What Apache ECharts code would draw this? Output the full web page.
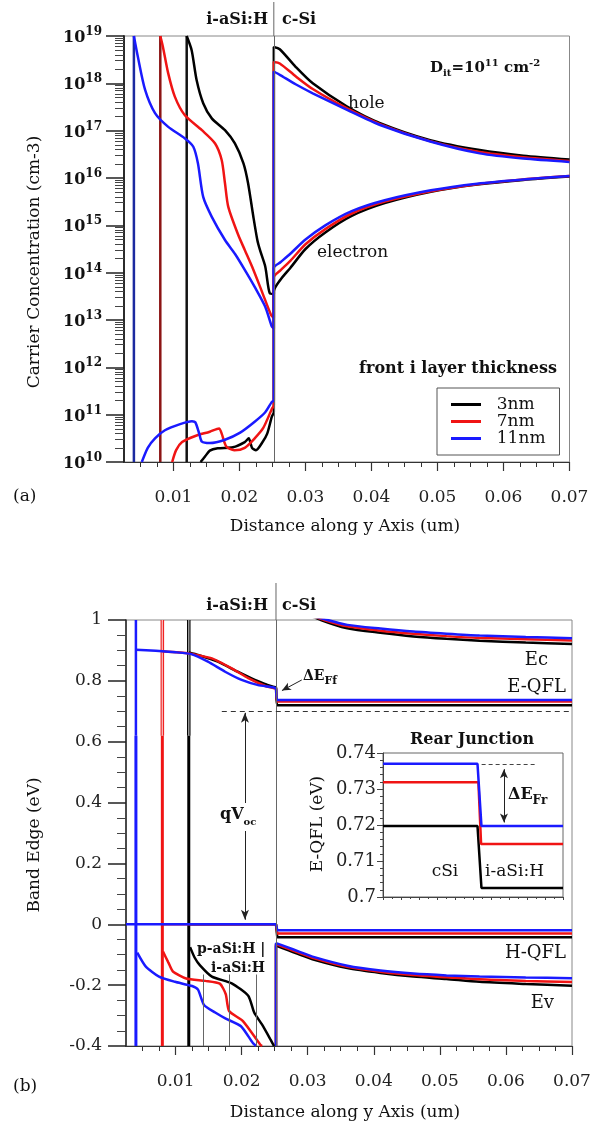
<!DOCTYPE html>
<html lang="en">
<head>
<meta charset="utf-8">
<title>Carrier concentration and band edge</title>
<script src="https://cdn.jsdelivr.net/npm/echarts@6.0.0/dist/echarts.min.js"></script>
<style>
    html, body { margin: 0; padding: 0; background: #fff; }
    #main { width: 602px; height: 1126px; }
</style>
</head>
<body>
<div id="main"></div>
<script type="text/javascript">
    // ---- axis ticks ----
    var xTicks = [0.01, 0.02, 0.03, 0.04, 0.05, 0.06, 0.07];
    var xMinorTicks = [0.005, 0.0075, 0.0125, 0.015, 0.0175, 0.0225, 0.025, 0.0275, 0.0325, 0.035, 0.0375,
        0.0425, 0.045, 0.0475, 0.0525, 0.055, 0.0575, 0.0625, 0.065, 0.0675];
    var logTicks = [1e10, 1e11, 1e12, 1e13, 1e14, 1e15, 1e16, 1e17, 1e18, 1e19];

    // ---- structure ----
    var thicknessNames = ['3nm', '7nm', '11nm'];
    var contactX = [0.012, 0.008, 0.004];
    var interfaceX = 0.0252;
    var piBoundaryX = [0.0222, 0.0182, 0.0142];

    // ---- (a) carrier concentration, [x (um), log10(cm-3)] ----
    var holeLog3 = [
        [0.0120, 19.0], [0.01275, 18.7], [0.0135, 18.07], [0.0145, 17.58], [0.0158, 17.26],
        [0.0178, 17.01], [0.0193, 16.73], [0.0206, 16.31], [0.0213, 15.89], [0.0221, 15.18],
        [0.0227, 14.69], [0.0231, 14.48], [0.0239, 14.13], [0.0246, 13.56], [0.0252, 13.55],
        [0.0252, 18.77], [0.0261, 18.72], [0.0285, 18.35], [0.0311, 18.0], [0.0363, 17.51],
        [0.0413, 17.16], [0.0489, 16.8], [0.0564, 16.59], [0.063, 16.47], [0.07, 16.39]
    ];
    var holeLog7 = [
        [0.0080, 19.0], [0.0084, 18.77], [0.0092, 18.21], [0.0102, 17.72], [0.0117, 17.33],
        [0.0143, 17.01], [0.0163, 16.73], [0.0173, 16.38], [0.0178, 15.89], [0.0183, 15.39],
        [0.0198, 14.8], [0.0208, 14.48], [0.0219, 14.13], [0.0234, 13.6], [0.0248, 13.1], [0.0252, 13.05],
        [0.0252, 18.45], [0.0261, 18.42], [0.0285, 18.15], [0.0311, 17.88], [0.0363, 17.47],
        [0.0413, 17.14], [0.0489, 16.78], [0.0564, 16.55], [0.063, 16.44], [0.07, 16.36]
    ];
    var holeLog11 = [
        [0.0040, 19.0], [0.0046, 18.56], [0.0057, 17.86], [0.0072, 17.37], [0.0092, 17.08],
        [0.0117, 16.84], [0.0130, 16.66], [0.0137, 16.31], [0.0145, 15.6], [0.0158, 15.18],
        [0.0178, 14.69], [0.0193, 14.4], [0.0208, 14.06], [0.0223, 13.7], [0.0239, 13.28],
        [0.0249, 12.86], [0.0252, 12.82],
        [0.0252, 18.25], [0.0261, 18.18], [0.0285, 17.98], [0.0311, 17.79], [0.0363, 17.44],
        [0.0413, 17.12], [0.0489, 16.77], [0.0564, 16.52], [0.063, 16.41], [0.07, 16.34]
    ];
    var elecLog3 = [
        [0.0141, 10.0], [0.0148, 10.12], [0.0155, 10.24], [0.0167, 10.29], [0.0190, 10.31],
        [0.0208, 10.42], [0.0214, 10.5], [0.0219, 10.3], [0.0225, 10.25], [0.0234, 10.4],
        [0.0242, 10.6], [0.0249, 10.96], [0.0252, 11.05],
        [0.0252, 13.6], [0.0262, 13.85], [0.0277, 14.1], [0.030, 14.5], [0.033, 14.85],
        [0.037, 15.2], [0.042, 15.47], [0.049, 15.71], [0.056, 15.86], [0.063, 15.96], [0.07, 16.03]
    ];
    var elecLog7 = [
        [0.0098, 10.0], [0.0104, 10.25], [0.0113, 10.42], [0.0133, 10.55], [0.0155, 10.64],
        [0.0169, 10.71], [0.0173, 10.6], [0.0180, 10.33], [0.0192, 10.25], [0.0208, 10.3],
        [0.0223, 10.5], [0.0236, 10.72], [0.0249, 11.12], [0.0252, 11.2],
        [0.0252, 13.9], [0.0262, 14.05], [0.0277, 14.25], [0.030, 14.6], [0.033, 14.92],
        [0.037, 15.25], [0.042, 15.5], [0.049, 15.72], [0.056, 15.87], [0.063, 15.97], [0.07, 16.04]
    ];
    var elecLog11 = [
        [0.0052, 10.0], [0.0061, 10.3], [0.0072, 10.5], [0.0087, 10.67], [0.0110, 10.8],
        [0.0128, 10.86], [0.0133, 10.84], [0.0139, 10.6], [0.0143, 10.43], [0.0155, 10.4],
        [0.0178, 10.47], [0.0201, 10.62], [0.0223, 10.85], [0.0239, 11.05], [0.0249, 11.27], [0.0252, 11.3],
        [0.0252, 14.1], [0.0262, 14.22], [0.0277, 14.4], [0.030, 14.7], [0.033, 15.0],
        [0.037, 15.3], [0.042, 15.53], [0.049, 15.74], [0.056, 15.88], [0.063, 15.97], [0.07, 16.04]
    ];

    // ---- (b) band edges, [x (um), eV] ----
    var eqfl3 = [[0.012, 0.893], [0.0134, 0.885], [0.0164, 0.863], [0.0194, 0.830], [0.0220, 0.803],
        [0.0235, 0.790], [0.0249, 0.780], [0.0252, 0.778], [0.0254, 0.7197], [0.07, 0.7197]];
    var eqfl7 = [[0.008, 0.897], [0.012, 0.890], [0.0155, 0.874], [0.0185, 0.841], [0.0210, 0.809],
        [0.0236, 0.783], [0.0249, 0.776], [0.0252, 0.775], [0.0254, 0.7319], [0.07, 0.7319]];
    var eqfl11 = [[0.004, 0.902], [0.007, 0.899], [0.010, 0.894], [0.0124, 0.888], [0.0149, 0.863],
        [0.0175, 0.830], [0.0200, 0.803], [0.0225, 0.786], [0.0247, 0.779], [0.0252, 0.775],
        [0.0254, 0.737], [0.07, 0.737]];
    var hqfl3 = [[0.012, 0], [0.0252, 0], [0.0254, -0.043], [0.07, -0.043]];
    var hqfl7 = [[0.008, 0], [0.0252, 0], [0.0254, -0.03], [0.07, -0.03]];
    var hqfl11 = [[0.0025, 0], [0.0252, 0], [0.0254, -0.02], [0.07, -0.02]];
    var ec3 = [[0.0252, 1.12], [0.029, 1.03], [0.032, 1.0], [0.036, 0.973], [0.041, 0.958], [0.046, 0.946],
        [0.051, 0.938], [0.056, 0.932], [0.063, 0.926], [0.07, 0.921]];
    var ec7 = [[0.0252, 1.11], [0.0295, 1.025], [0.0325, 1.0], [0.036, 0.979], [0.041, 0.965], [0.046, 0.955],
        [0.051, 0.947], [0.056, 0.941], [0.063, 0.937], [0.07, 0.933]];
    var ec11 = [[0.0252, 1.1], [0.030, 1.02], [0.033, 1.0], [0.036, 0.984], [0.041, 0.972], [0.046, 0.962],
        [0.051, 0.955], [0.056, 0.949], [0.063, 0.944], [0.07, 0.940]];
    var evA3 = [[0.0122, -0.075], [0.0129, -0.11], [0.0137, -0.135], [0.0155, -0.172], [0.0185, -0.194],
        [0.0210, -0.235], [0.0219, -0.29], [0.0231, -0.33], [0.0244, -0.38], [0.0249, -0.40]];
    var evA7 = [[0.0081, -0.09], [0.0089, -0.125], [0.0096, -0.155], [0.0116, -0.178], [0.0145, -0.186],
        [0.0167, -0.195], [0.0176, -0.23], [0.0181, -0.285], [0.0202, -0.318], [0.0228, -0.395], [0.0231, -0.40]];
    var evA11 = [[0.0042, -0.093], [0.0055, -0.139], [0.0075, -0.172], [0.0099, -0.189], [0.0125, -0.203],
        [0.0134, -0.215], [0.0143, -0.265], [0.0160, -0.29], [0.0176, -0.31], [0.0199, -0.335],
        [0.0217, -0.39], [0.0222, -0.40]];
    var evC3 = [[0.0252, -0.4], [0.0252, -0.07], [0.027, -0.085], [0.0285, -0.097], [0.031, -0.117],
        [0.036, -0.144], [0.041, -0.160], [0.046, -0.172], [0.051, -0.180], [0.056, -0.189], [0.063, -0.196], [0.07, -0.202]];
    var evC7 = [[0.0252, -0.4], [0.0252, -0.065], [0.027, -0.08], [0.0285, -0.092], [0.031, -0.112],
        [0.036, -0.140], [0.041, -0.156], [0.046, -0.167], [0.051, -0.174], [0.056, -0.181], [0.063, -0.186], [0.07, -0.190]];
    var evC11 = [[0.0252, -0.4], [0.0252, -0.062], [0.027, -0.076], [0.0285, -0.088], [0.031, -0.108],
        [0.036, -0.136], [0.041, -0.152], [0.046, -0.162], [0.051, -0.168], [0.056, -0.172], [0.063, -0.175], [0.07, -0.177]];

    // ---- inset: rear junction E-QFL ----
    var rear3 = [[0, 0.7197], [0.525, 0.7197], [0.547, 0.7025], [1, 0.7025]];
    var rear7 = [[0, 0.7319], [0.53, 0.7319], [0.545, 0.7147], [1, 0.7147]];
    var rear11 = [[0, 0.737], [0.525, 0.737], [0.547, 0.7197], [1, 0.7197]];

    var F = '"DejaVu Serif", "Liberation Serif", serif';
    var lineColors = ['#000000', '#f01414', '#1a1aff'];
    var contactColorsTop = ['#111111', '#8c1414', '#1c2aa0'];

    function toPow(arr) {
        return arr.map(function (p) { return [p[0], Math.pow(10, p[1])]; });
    }

    function curve(name, data, color, xi, yi, width, smooth) {
        return {
            name: name, type: 'line', xAxisIndex: xi, yAxisIndex: yi, data: data,
            symbol: 'none', showSymbol: false, clip: true, silent: true,
            smooth: smooth || false,
            lineStyle: {color: color, width: width || 2.5},
            itemStyle: {color: color}
        };
    }

    function markSeries(xi, yi, items) {
        return {
            name: 'mark' + xi, type: 'line', xAxisIndex: xi, yAxisIndex: yi, data: [],
            markLine: {
                silent: true, animation: false, symbol: ['none', 'none'],
                label: {show: false},
                lineStyle: {color: '#666', width: 1, type: 'solid'},
                data: items
            }
        };
    }

    function mainX(gridIndex) {
        return {
            gridIndex: gridIndex, type: 'value', min: 0.0025, max: 0.07, position: 'bottom',
            axisLine: {show: true, onZero: false, lineStyle: {color: '#333', width: 1.2}},
            axisTick: {show: true, length: 9, customValues: xTicks, lineStyle: {color: '#333', width: 1.2}},
            axisLabel: {
                customValues: xTicks, margin: 27, fontSize: 17, fontFamily: F, color: '#222',
                formatter: function (v) { return v.toFixed(2); }
            },
            splitLine: {show: false}
        };
    }

    function minorX(gridIndex) {
        return {
            gridIndex: gridIndex, type: 'value', min: 0.0025, max: 0.07, position: 'bottom',
            axisLine: {show: true, onZero: false, lineStyle: {color: '#333', width: 1.2}},
            axisTick: {show: true, length: 5, customValues: xMinorTicks, lineStyle: {color: '#333', width: 1}},
            axisLabel: {show: false},
            splitLine: {show: false}
        };
    }

    // log-axis minor ticks, placed on a linear axis of the exponent
    var logMinorExp = [];
    for (var e = 10; e < 19; e++) {
        for (var m = 2; m <= 9; m++) {
            logMinorExp.push(e + Math.log10(m));
        }
    }

    var series = [];
    // (a)
    for (var i = 0; i < 3; i++) {
        series.push(curve('contactA' + i, [[contactX[i], 1e10], [contactX[i], 1e19]], contactColorsTop[i], 0, 0, 2.5));
    }
    for (i = 0; i < 3; i++) {
        series.push(curve(thicknessNames[i], toPow([holeLog3, holeLog7, holeLog11][i]), lineColors[i], 0, 0, 2.5, 0.25));
    }
    for (i = 0; i < 3; i++) {
        series.push(curve('elec' + i, toPow([elecLog3, elecLog7, elecLog11][i]), lineColors[i], 0, 0, 2.5, 0.25));
    }
    series.push(markSeries(0, 0, [[{coord: [interfaceX, 1e10]}, {coord: [interfaceX, 1e19]}]]));

    // (b)
    var upperTint = ['#9a9a9a', '#f6b4b4', '#1a1aff'];
    for (i = 0; i < 3; i++) {
        series.push(curve('contactB' + i, [[contactX[i], -0.4], [contactX[i], 0.62]], lineColors[i], 2, 2, 3));
        series.push(curve('contactBu' + i, [[contactX[i], 0.62], [contactX[i], 1]], lineColors[i], 2, 2, i === 2 ? 2.5 : 3.5));
        if (i < 2) {
            series.push(curve('contactBi' + i, [[contactX[i], 0.62], [contactX[i], 1]], upperTint[i], 2, 2, 1.5));
        }
    }
    var bGroups = [[ec3, ec7, ec11], [evC3, evC7, evC11], [evA3, evA7, evA11], [hqfl3, hqfl7, hqfl11], [eqfl3, eqfl7, eqfl11]];
    var bSmooth = [0.25, 0.25, 0.2, 0, 0.15];
    for (var g = 0; g < bGroups.length; g++) {
        for (i = 0; i < 3; i++) {
            series.push(curve('b' + g + '_' + i, bGroups[g][i], lineColors[i], 2, 2, 2.5, bSmooth[g]));
        }
    }
    var piItems = piBoundaryX.map(function (x) {
        return [{coord: [x, -0.4]}, {coord: [x, -0.165]}];
    });
    series.push(markSeries(2, 2, [
        [{coord: [interfaceX, -0.4]}, {coord: [interfaceX, 1]}],
        [{coord: [0.017, 0.70], lineStyle: {color: '#333', type: [5, 4], width: 1}},
            {coord: [0.07, 0.70]}],
        [{coord: [0.0205, 0.695], symbol: 'arrow', symbolSize: [6, 10], lineStyle: {color: '#222', width: 1}},
            {coord: [0.0205, 0.015], symbol: 'arrow', symbolSize: [6, 10]}],
        [{coord: [0.0291, 0.803], symbol: 'none', lineStyle: {color: '#222', width: 1}},
            {coord: [0.0261, 0.768], symbol: 'arrow', symbolSize: [6, 9]}]
    ].concat(piItems)));

    // inset
    var rearData = [rear3, rear7, rear11];
    for (i = 0; i < 3; i++) {
        series.push(curve('rear' + i, rearData[i], lineColors[i], 4, 3, 2.5));
    }
    series.push(markSeries(4, 3, [
        [{coord: [0.548, 0.737], lineStyle: {color: '#444', type: [4, 3], width: 1}}, {coord: [0.856, 0.737]}],
        [{coord: [0.672, 0.7355], symbol: 'arrow', symbolSize: [6, 9], lineStyle: {color: '#222', width: 1}},
            {coord: [0.672, 0.7207], symbol: 'arrow', symbolSize: [6, 9]}]
    ]));

    var supRich = {
        b: {fontSize: 16, fontWeight: 'bold', fontFamily: F, color: '#111', verticalAlign: 'bottom'},
        s: {fontSize: 12, fontWeight: 'bold', fontFamily: F, color: '#111', verticalAlign: 'bottom', padding: [0, 0, 8, 0]}
    };

    var option = {
        animation: false,
        backgroundColor: '#fff',
        textStyle: {fontFamily: F},
        grid: [
            {left: 124, top: 36, right: 32.5, height: 426, show: true, borderColor: '#888', borderWidth: 1, containLabel: false, outerBoundsMode: 'none'},
            {left: 126, top: 620, right: 30, height: 426, show: true, borderColor: '#888', borderWidth: 1, containLabel: false, outerBoundsMode: 'none'},
            {left: 383, top: 753, width: 180, height: 144, show: true, borderColor: '#666', borderWidth: 1, containLabel: false, outerBoundsMode: 'none'}
        ],
        legend: {
            data: thicknessNames, orient: 'vertical', left: 437, top: 388,
            itemWidth: 30, itemHeight: 3, icon: 'rect', itemGap: 0,
            padding: [8, 14, 8, 14], borderColor: '#555', borderWidth: 1,
            selectedMode: false, backgroundColor: '#fff',
            formatter: function (name) { return '  ' + name; },
            textStyle: {fontSize: 17, fontFamily: F, color: '#111'}
        },
        xAxis: [
            mainX(0), minorX(0), mainX(1), minorX(1),
            {
                gridIndex: 2, type: 'value', min: 0, max: 1, interval: 0.1, position: 'bottom',
                axisLine: {show: true, onZero: false, lineStyle: {color: '#444'}},
                axisTick: {show: true, length: 3, lineStyle: {color: '#444'}},
                minorTick: {show: true, splitNumber: 2, length: 2, lineStyle: {color: '#444'}},
                axisLabel: {show: false}, splitLine: {show: false}
            }
        ],
        yAxis: [
            {
                gridIndex: 0, type: 'log', logBase: 10, min: 1e10, max: 1e19, position: 'left',
                axisLine: {show: true, onZero: false, lineStyle: {color: '#222', width: 1.5}},
                axisTick: {show: true, length: 18, customValues: logTicks, lineStyle: {color: '#222', width: 1.5}},
                axisLabel: {
                    customValues: logTicks, margin: 22, rich: supRich,
                    formatter: function (v) { return '{b|10}{s|' + Math.round(Math.log10(v)) + '}'; }
                },
                splitLine: {show: false}
            },
            {
                gridIndex: 0, type: 'value', min: 10, max: 19, position: 'left',
                axisLine: {show: true, onZero: false, lineStyle: {color: '#222', width: 1.5}},
                axisTick: {show: true, length: 9, customValues: logMinorExp, lineStyle: {color: '#444', width: 1}},
                axisLabel: {show: false}, splitLine: {show: false}
            },
            {
                gridIndex: 1, type: 'value', min: -0.4, max: 1, interval: 0.2, position: 'left',
                axisLine: {show: true, onZero: false, lineStyle: {color: '#222', width: 1.5}},
                axisTick: {show: true, length: 18, lineStyle: {color: '#222', width: 1.5}},
                minorTick: {show: true, splitNumber: 4, length: 9, lineStyle: {color: '#444'}},
                axisLabel: {margin: 24, fontSize: 17, fontFamily: F, color: '#222'},
                splitLine: {show: false}
            },
            {
                gridIndex: 2, type: 'value', min: 0.7, max: 0.74, interval: 0.01, position: 'left',
                axisLine: {show: true, onZero: false, lineStyle: {color: '#444'}},
                axisTick: {show: true, length: 6, lineStyle: {color: '#444'}},
                minorTick: {show: true, splitNumber: 5, length: 3, lineStyle: {color: '#444'}},
                axisLabel: {
                    margin: 7, fontSize: 18, fontFamily: F, color: '#222',
                    formatter: function (v) { return String(Math.round(v * 100) / 100); }
                },
                splitLine: {show: false}
            }
        ],
        series: series
    };

    var chart = echarts.init(document.getElementById('main'), null, {renderer: 'canvas'});
    chart.setOption(option);

    function txt(x, y, text, font, align, extra) {
        var el = {
            type: 'text', x: x, y: y, z: 100,
            style: {text: text, font: font, fill: '#111', align: align || 'left', verticalAlign: 'middle'}
        };
        if (extra) {
            for (var k in extra) { el.style[k] = extra[k]; }
        }
        return el;
    }

    var subRich = function (big, small, bold) {
        var w = bold ? 'bold' : 'normal';
        return {
            m: {fontSize: big, fontWeight: w, fontFamily: F, color: '#111', verticalAlign: 'bottom', padding: [0, 0, 4, 0]},
            s: {fontSize: small, fontWeight: w, fontFamily: F, color: '#111', verticalAlign: 'bottom'}
        };
    };

    var pTop = chart.convertToPixel({xAxisIndex: 0, yAxisIndex: 0}, [interfaceX, 1e19]);
    var pBot = chart.convertToPixel({xAxisIndex: 2, yAxisIndex: 2}, [interfaceX, 1]);

    var graphics = [
        {type: 'line', z: 100, shape: {x1: pTop[0], y1: 2, x2: pTop[0], y2: pTop[1]}, style: {stroke: '#666', lineWidth: 1}},
        {type: 'line', z: 100, shape: {x1: pBot[0], y1: 583, x2: pBot[0], y2: pBot[1]}, style: {stroke: '#666', lineWidth: 1}},

        txt(268, 20, 'i-aSi:H', 'bold 16px ' + F, 'right'),
        txt(282, 20, 'c-Si', 'bold 16px ' + F, 'left'),
        txt(430, 68, '{b|D}{d|it}{b|=10}{s|11}{b| cm}{s|-2}', 'bold 15px ' + F, 'left', {
            rich: {
                b: {fontSize: 15, fontWeight: 'bold', fontFamily: F, color: '#111', verticalAlign: 'bottom', padding: [0, 0, 2, 0]},
                d: {fontSize: 10, fontWeight: 'bold', fontFamily: F, color: '#111', verticalAlign: 'bottom'},
                s: {fontSize: 10, fontWeight: 'bold', fontFamily: F, color: '#111', verticalAlign: 'bottom', padding: [0, 0, 10, 0]}
            }
        }),
        txt(348, 104, 'hole', '17px ' + F),
        txt(317, 253, 'electron', '17px ' + F),
        txt(557, 369, 'front i layer thickness', 'bold 16px ' + F, 'right'),
        txt(13, 497, '(a)', '17px ' + F),
        {type: 'text', x: 35, y: 262, rotation: Math.PI / 2, z: 100,
            style: {text: 'Carrier Concentration (cm-3)', font: '17px ' + F, fill: '#111', align: 'center', verticalAlign: 'middle'}},
        txt(345, 527, 'Distance along y Axis (um)', '17px ' + F, 'center'),

        txt(268, 606, 'i-aSi:H', 'bold 16px ' + F, 'right'),
        txt(282, 606, 'c-Si', 'bold 16px ' + F, 'left'),
        txt(303, 678, '{m|ΔE}{s|Ff}', 'bold 14px ' + F, 'left', {rich: subRich(14, 11, true)}),
        txt(548, 660, 'Ec', '18px ' + F, 'right'),
        txt(566, 687, 'E-QFL', '18px ' + F, 'right'),
        txt(472, 740, 'Rear Junction', 'bold 16px ' + F, 'center'),
        txt(218, 817, '{m|qV}{s|oc}', 'bold 16px ' + F, 'left', {
            rich: subRich(16, 10, true), backgroundColor: '#fff', padding: [4, 2, 4, 2]
        }),
        txt(566, 953, 'H-QFL', '18px ' + F, 'right'),
        txt(554, 1003, 'Ev', '18px ' + F, 'right'),
        txt(197, 949, 'p-aSi:H |', 'bold 14px ' + F, 'left'),
        txt(211, 968, 'i-aSi:H', 'bold 14px ' + F, 'left'),
        txt(13, 1087, '(b)', '17px ' + F),
        {type: 'text', x: 35, y: 845, rotation: Math.PI / 2, z: 100,
            style: {text: 'Band Edge (eV)', font: '17px ' + F, fill: '#111', align: 'center', verticalAlign: 'middle'}},
        txt(345, 1113, 'Distance along y Axis (um)', '17px ' + F, 'center'),

        {type: 'text', x: 318, y: 824, rotation: Math.PI / 2, z: 100,
            style: {text: 'E-QFL (eV)', font: '17px ' + F, fill: '#111', align: 'center', verticalAlign: 'middle'}},
        txt(445, 872, 'cSi', '17px ' + F, 'center'),
        txt(485, 872, 'i-aSi:H', '17px ' + F, 'left'),
        txt(508, 797, '{m|ΔE}{s|Fr}', 'bold 16px ' + F, 'left', {rich: subRich(16, 12, true)})
    ];

    chart.setOption({graphic: graphics});
</script>
</body>
</html>
